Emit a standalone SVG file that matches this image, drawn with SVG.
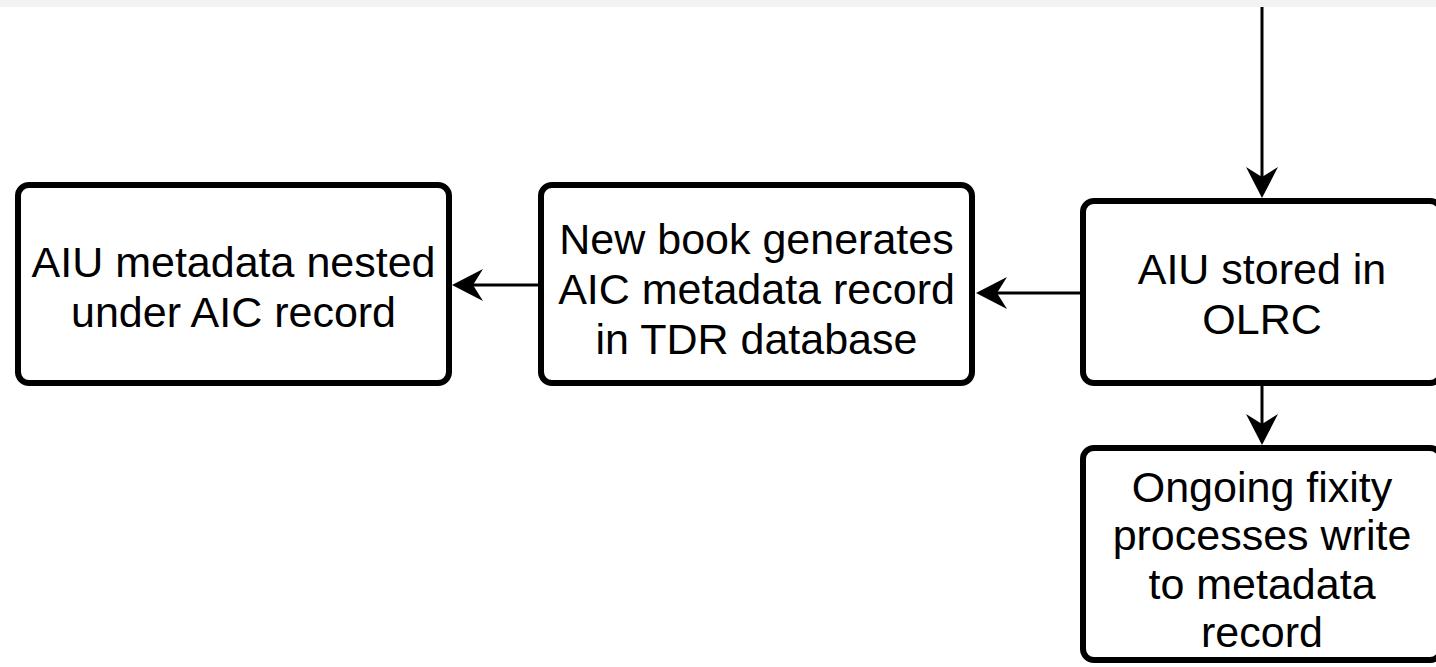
<svg xmlns="http://www.w3.org/2000/svg" width="1436" height="667" viewBox="0 0 1436 667">
  <style>
    .box { fill: #ffffff; stroke: #000000; stroke-width: 6; }
    .lbl { font-family: "Liberation Sans", Arial, Helvetica, sans-serif; font-size: 43px; fill: #000000; text-anchor: middle; }
    .edge { fill: none; stroke: #000000; stroke-width: 3; }
  </style>
  <defs>
    <marker id="arrow" viewBox="-32 -17 33 34" refX="-21" refY="0" markerWidth="33" markerHeight="34" markerUnits="userSpaceOnUse" orient="auto">
      <path d="M0,0 L-31,-16 L-21,0 L-31,16 Z" fill="#000000"/>
    </marker>
  </defs>
  <rect x="0" y="0" width="1436" height="667" fill="#ffffff"/>
  <rect x="0" y="0" width="1436" height="7" fill="#f2f2f2"/>

  <g id="connectors">
    <path class="edge" d="M1262,7 L1262,177" marker-end="url(#arrow)"/>
    <path class="edge" d="M1262,386 L1262,424" marker-end="url(#arrow)"/>
    <path class="edge" d="M1080,293 L997,293" marker-end="url(#arrow)"/>
    <path class="edge" d="M538,285 L473,285" marker-end="url(#arrow)"/>
  </g>

  <g id="node-aiu-nested">
    <rect class="box" x="18" y="185" width="431" height="198" rx="11" ry="11"/>
    <text class="lbl"><tspan x="233.5" y="277">AIU metadata nested</tspan><tspan x="233.5" y="327">under AIC record</tspan></text>
  </g>

  <g id="node-new-book">
    <rect class="box" x="541" y="185" width="431" height="198" rx="11" ry="11"/>
    <text class="lbl"><tspan x="756.5" y="254">New book generates</tspan><tspan x="756.5" y="304">AIC metadata record</tspan><tspan x="756.5" y="354">in TDR database</tspan></text>
  </g>

  <g id="node-olrc">
    <rect class="box" x="1083" y="201" width="358" height="182" rx="11" ry="11"/>
    <text class="lbl"><tspan x="1262" y="284">AIU stored in</tspan><tspan x="1262" y="334">OLRC</tspan></text>
  </g>

  <g id="node-fixity">
    <rect class="box" x="1083" y="448" width="358" height="212" rx="11" ry="11"/>
    <text class="lbl"><tspan x="1262" y="502">Ongoing fixity</tspan><tspan x="1262" y="550">processes write</tspan><tspan x="1262" y="599">to metadata</tspan><tspan x="1262" y="647">record</tspan></text>
  </g>
</svg>
